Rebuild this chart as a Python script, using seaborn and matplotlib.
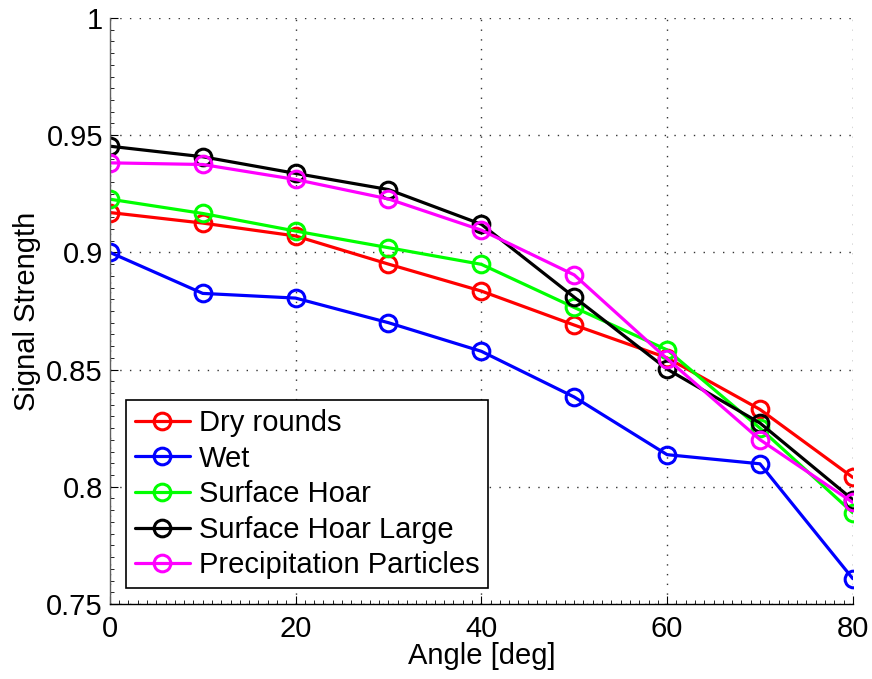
import numpy as np
import pandas as pd
import matplotlib
matplotlib.use("Agg")
import matplotlib.pyplot as plt
from matplotlib.ticker import MultipleLocator
import seaborn as sns

angles = [0, 10, 20, 30, 40, 50, 60, 70, 80]
dry_rounds = [0.917, 0.9125, 0.907, 0.895, 0.8835, 0.869, 0.855, 0.833, 0.804]
wet = [0.900, 0.8825, 0.8805, 0.870, 0.8578, 0.8383, 0.8137, 0.8098, 0.7608]
surface_hoar = [0.9227, 0.9166, 0.9091, 0.902, 0.8949, 0.8765, 0.8584, 0.825, 0.7889]
surface_hoar_large = [0.9453, 0.9408, 0.9337, 0.9268, 0.912, 0.8809, 0.8502, 0.8272, 0.7945]
precip_particles = [0.9382, 0.9375, 0.9311, 0.9228, 0.9095, 0.8904, 0.8546, 0.8201, 0.7933]

series_names = ["Dry rounds", "Wet", "Surface Hoar", "Surface Hoar Large",
                "Precipitation Particles"]
series_values = [dry_rounds, wet, surface_hoar, surface_hoar_large, precip_particles]
colors = ["#ff0000", "#0000ff", "#00ff00", "#000000", "#ff00ff"]

sns.set_theme(style="white")
plt.rcParams["font.family"] = ["Liberation Sans", "DejaVu Sans"]
plt.rcParams["text.color"] = "black"
plt.rcParams["axes.labelcolor"] = "black"
plt.rcParams["xtick.color"] = "black"
plt.rcParams["ytick.color"] = "black"

fig = plt.figure(figsize=(8.72, 6.79), dpi=100)
ax = fig.add_axes([0.126, 0.1105, 0.852, 0.8630])

for name, vals, col in zip(series_names, series_values, colors):
    df = pd.DataFrame({"Angle": angles, "Signal": vals})
    sns.lineplot(data=df, x="Angle", y="Signal", ax=ax, color=col, label=name,
                 marker="o", markersize=12, markerfacecolor="none",
                 markeredgecolor=col, markeredgewidth=2.2, linewidth=2.3)

ax.set_xlim(0, 80)
ax.set_ylim(0.75, 1.0)
ax.set_xticks([0, 20, 40, 60, 80])
ax.set_yticks([0.75, 0.8, 0.85, 0.9, 0.95, 1.0])
ax.set_yticklabels(["0.75", "0.8", "0.85", "0.9", "0.95", "1"])
ax.xaxis.set_minor_locator(MultipleLocator(1))
ax.yaxis.set_minor_locator(MultipleLocator(0.005))
ax.tick_params(axis="both", which="major", direction="in", length=6,
               labelsize=21, colors="black", width=0.8)
ax.tick_params(axis="both", which="minor", direction="in", length=3, width=0.6)
ax.tick_params(axis="both", which="both", top=False, right=False, bottom=True, left=True)
ax.tick_params(axis="x", which="major", pad=8)
ax.tick_params(axis="y", which="major", pad=5)

for s in ["top", "right"]:
    ax.spines[s].set_visible(False)
ax.spines["left"].set_color("#606060")
ax.spines["bottom"].set_color("black")
for s in ["left", "bottom"]:
    ax.spines[s].set_linewidth(1.0)

ax.grid(True, which="major", linestyle=(0, (1, 6)), color="#333333", linewidth=1.0)

ax.set_xlabel("Angle [deg]", fontsize=21, labelpad=-1, color="black")
ax.set_ylabel("Signal Strength", fontsize=21, labelpad=4, color="black")

leg = ax.legend(loc="lower left", bbox_to_anchor=(0.0215, 0.027), borderaxespad=0,
                fontsize=21, frameon=True, fancybox=False, edgecolor="black",
                handlelength=1.9, handletextpad=0.3, labelspacing=0.26,
                borderpad=0.3, labelcolor="black")
leg.get_frame().set_linewidth(1.2)
leg.get_frame().set_alpha(1)

fig.savefig("out.png", dpi=100)
